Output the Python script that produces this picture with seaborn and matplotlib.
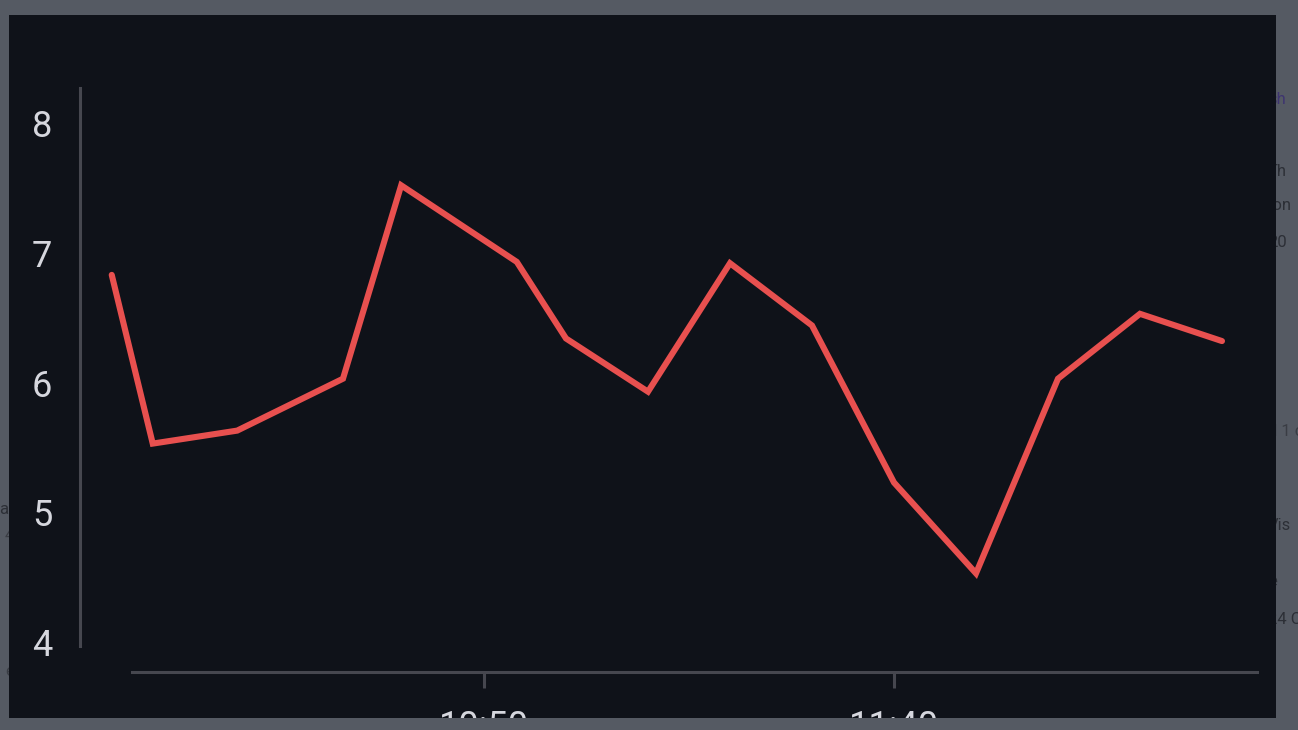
import numpy as np
import pandas as pd
import matplotlib
matplotlib.use("Agg")
import matplotlib.pyplot as plt
import matplotlib.dates as mdates
from matplotlib.patches import Rectangle
import seaborn as sns

# ---- data ----
times = ["10:04:36", "10:09:36", "10:19:54", "10:32:48", "10:39:54",
         "10:54:00", "11:00:00", "11:10:00", "11:20:00", "11:30:00",
         "11:40:00", "11:50:00", "12:00:00", "12:10:00", "12:20:00"]
values = [6.83, 5.53, 5.63, 6.03, 7.52, 6.93, 6.34, 5.93, 6.92, 6.44,
          5.23, 4.53, 6.03, 6.53, 6.32]
y_ticks = [4, 5, 6, 7, 8]
x_ticks = ["10:50", "11:40"]

day = "2024-01-01 "
df = pd.DataFrame({"time": pd.to_datetime([day + t for t in times]),
                   "value": values})

W, H, DPI = 1298, 730, 100
sns.set_theme(style="dark")
plt.rcParams["font.family"] = ["Roboto", "DejaVu Sans"]

PAGE = "#555a63"
PANEL = "#0f1219"
AXC = "#46474f"
TXT = "#d6d7de"
RED = "#e8504f"

fig = plt.figure(figsize=(W / DPI, H / DPI), dpi=DPI, facecolor=PAGE)

def fx(px):
    return px / W

def fy(py):
    return 1 - py / H

# faint page fragments behind the panel
frag = [(1268, 100, "sh", "#3e3470"), (1268, 171, "Th", "#2c2f36"),
        (1268, 206, "ton", "#2c2f36"), (1268, 242, "20", "#2c2f36"),
        (1268, 432, "d 1 c", "#3a3d44"), (1268, 525, "Vis", "#2c2f36"),
        (1268, 582, "e", "#2c2f36"), (1268, 620, "24 C", "#2c2f36")]
for x, y, s, c in frag:
    fig.text(fx(x), fy(y), s, color=c, fontsize=12, va="center", ha="left",
             zorder=-5, family=["Roboto", "DejaVu Sans"])
lfrag = [(14, 122, "i", "#2c2f36"), (14, 425, "(", "#3e3470"),
         (14, 510, "ar", "#2c2f36"), (14, 535, "4", "#3a3d44"),
         (14, 672, "e", "#3a3d44")]
for x, y, s, c in lfrag:
    fig.text(fx(x), fy(y), s, color=c, fontsize=12, va="center", ha="right",
             zorder=-5, family=["Roboto", "DejaVu Sans"])

# dark panel
panel = fig.add_axes([fx(9), fy(718), fx(1276 - 9), (718 - 15) / H], zorder=-1)
panel.set_facecolor(PANEL)
panel.set_xticks([])
panel.set_yticks([])
for s in panel.spines.values():
    s.set_visible(False)

# chart axes
L, R, T, B = 80, 1257, 88, 672
ax = fig.add_axes([fx(L), fy(B), (R - L) / W, (B - T) / H], zorder=1)
ax.set_facecolor("none")

sns.lineplot(data=df, x="time", y="value", ax=ax, color=RED, linewidth=4.4,
             solid_capstyle="round", solid_joinstyle="miter")

base = pd.Timestamp(day + "10:00:00")
def tm(minutes):
    return mdates.date2num(base + pd.Timedelta(minutes=minutes))

ax.set_xlim(tm(0.73), tm(144.27))
ax.set_ylim(3.77, 8.27)

ax.set_yticks(y_ticks)
ax.set_yticklabels([str(v) for v in y_ticks])
ax.set_xticks([mdates.date2num(pd.Timestamp(day + t)) for t in x_ticks])
ax.set_xticklabels(x_ticks)
ax.set_xlabel("")
ax.set_ylabel("")
ax.grid(False)

for s in ["top", "right"]:
    ax.spines[s].set_visible(False)
for s in ["left", "bottom"]:
    ax.spines[s].set_visible(True)
    ax.spines[s].set_color(AXC)
    ax.spines[s].set_linewidth(2.2)
ax.spines["left"].set_bounds(3.97, 8.27)
ax.spines["bottom"].set_bounds(tm(7.07), tm(144.27))

ax.tick_params(axis="y", left=False, length=0, pad=20, labelsize=26,
               labelcolor=TXT)
ax.tick_params(axis="x", bottom=True, length=11.5, width=2.2, color=AXC,
               direction="out", pad=15, labelsize=26, labelcolor=TXT)

# page strip covering the bottom of the panel (clips the x labels)
fig.add_artist(Rectangle((0, 0), 1, 12 / H, transform=fig.transFigure,
                         facecolor=PAGE, edgecolor="none", zorder=10))

fig.savefig("out.png", dpi=DPI, facecolor=PAGE)
